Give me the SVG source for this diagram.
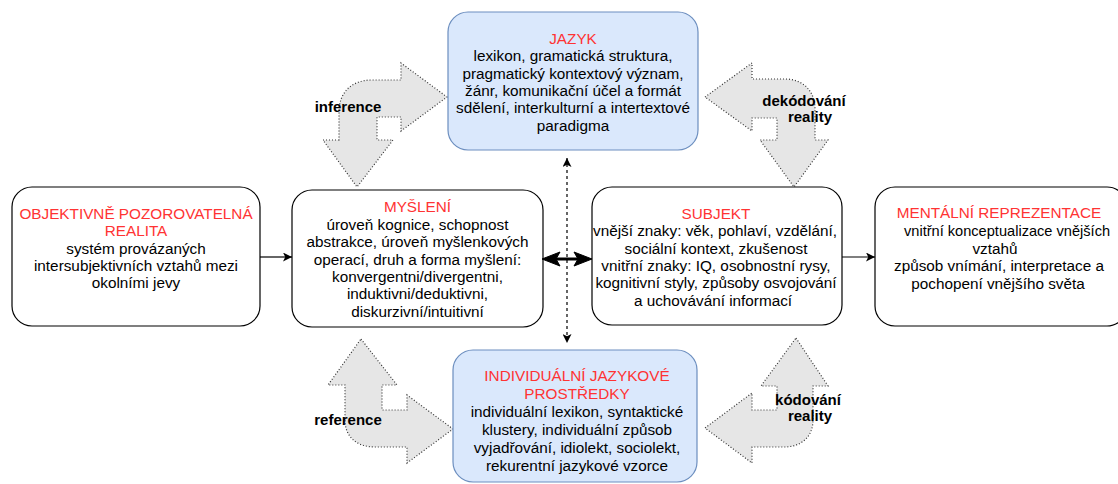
<svg xmlns="http://www.w3.org/2000/svg" width="1118" height="484" viewBox="0 0 1118 484">
<style>
text{font-family:"Liberation Sans",Arial,Helvetica,sans-serif;font-size:15.3px;fill:#000;text-anchor:middle}
.t{fill:#FF3333}
.lbl{font-weight:bold;font-size:15px}
.box{fill:#fff;stroke:#000;stroke-width:1.2}
.blue{fill:#dae8fc;stroke:#6c8ebf;stroke-width:1.2}
.bent{fill:#e6e6e6;stroke:#333;stroke-width:1.2;stroke-dasharray:1 2}
.conn{fill:none;stroke:#000;stroke-width:1.2}
</style>
<defs>
<marker id="arr" viewBox="0 0 10 10" refX="10" refY="5" markerWidth="10" markerHeight="9" markerUnits="userSpaceOnUse" orient="auto-start-reverse">
<path d="M0,0 L10,5 L0,10 L2.5,5 Z" fill="#000"/>
</marker>
</defs>
<rect width="1118" height="484" fill="#fff"/>

<g id="bent-arrows">
<g id="inference">
<path class="bent" d="M339,140 L323,140 L357,187 L393,140 L377,140 L377,117 L401,117 L401,131 L447,97 L401,63 L401,80 L372,80 C352,80 339,92 339,112 Z"/>
<text class="lbl" x="348" y="112">inference</text>
</g>
<g id="dekodovani">
<path class="bent" d="M705,97 L752,63 L752,79 L785,79 C803,79 815,91 815,109 L815,140 L828,140 L794,187 L760,140 L777,140 L777,118 L752,118 L752,131 Z"/>
<text class="lbl" x="804" y="106">dekódování</text>
<text class="lbl" x="810" y="122">reality</text>
</g>
<g id="reference">
<path class="bent" d="M361,339 L397,385 L382,385 L382,410 L407,410 L407,395 L453,429 L407,463 L407,447 L375,447 C357,447 345,437 345,420 L345,385 L328,385 Z"/>
<text class="lbl" x="348" y="425">reference</text>
</g>
<g id="kodovani">
<path class="bent" d="M796,338 L828,386 L813,386 L813,420 C813,437 801,447 784,447 L752,447 L752,463 L705,428 L752,393 L752,410 L777,410 L777,386 L761,386 Z"/>
<text class="lbl" x="808" y="405">kódování</text>
<text class="lbl" x="810" y="421">reality</text>
</g>
</g>

<g id="jazyk">
<rect class="blue" x="448" y="12" width="250" height="138" rx="20"/>
<text class="t" x="573" y="43.5">JAZYK</text>
<text x="573" y="61">lexikon, gramatická struktura,</text>
<text x="573" y="78.5">pragmatický kontextový význam,</text>
<text x="573" y="96">žánr, komunikační účel a formát</text>
<text x="573" y="113">sdělení, interkulturní a intertextové</text>
<text x="573" y="130.5">paradigma</text>
</g>

<g id="objektivne">
<rect class="box" x="12" y="187" width="248" height="139" rx="20"/>
<text class="t" x="136" y="218.5">OBJEKTIVNĚ POZOROVATELNÁ</text>
<text class="t" x="136" y="236">REALITA</text>
<text x="136" y="253.5">systém provázaných</text>
<text x="136" y="270.5">intersubjektivních vztahů mezi</text>
<text x="136" y="288">okolními jevy</text>
</g>

<g id="mysleni">
<rect class="box" x="292" y="190" width="251" height="137" rx="20"/>
<text class="t" x="417.5" y="212">MYŠLENÍ</text>
<text x="417.5" y="229.5">úroveň kognice, schopnost</text>
<text x="417.5" y="247">abstrakce, úroveň myšlenkových</text>
<text x="417.5" y="264.5">operací, druh a forma myšlení:</text>
<text x="417.5" y="281.5">konvergentni/divergentni,</text>
<text x="417.5" y="299">induktivni/deduktivni,</text>
<text x="417.5" y="316.5">diskurzivní/intuitivní</text>
</g>

<g id="subjekt">
<rect class="box" x="592" y="187" width="250" height="138" rx="20"/>
<text class="t" x="716" y="218.5">SUBJEKT</text>
<text x="715" y="236">vnější znaky: věk, pohlaví, vzdělání,</text>
<text x="716" y="253.5">sociální kontext, zkušenost</text>
<text x="716" y="270.5">vnitřní znaky: IQ, osobnostní rysy,</text>
<text x="716" y="288">kognitivní styly, způsoby osvojování</text>
<text x="713" y="305.5">a uchovávání informací</text>
</g>

<g id="mentalni">
<rect class="box" x="875" y="187" width="252" height="139" rx="20"/>
<text class="t" x="999" y="217.5">MENTÁLNÍ REPREZENTACE</text>
<text x="904" y="235.5" style="text-anchor:start;font-size:14.6px">vnitřní konceptualizace vnějších</text>
<text x="995" y="253.5">vztahů</text>
<text x="999" y="271">způsob vnímání, interpretace a</text>
<text x="998" y="288.5">pochopení vnějšího světa</text>
</g>

<g id="individualni">
<rect class="blue" x="453" y="350" width="244" height="132" rx="20"/>
<text class="t" x="577" y="380.5">INDIVIDUÁLNÍ JAZYKOVÉ</text>
<text class="t" x="577" y="398.5">PROSTŘEDKY</text>
<text x="577" y="416.5">individuální lexikon, syntaktické</text>
<text x="577" y="434.5">klustery, individuální způsob</text>
<text x="577" y="452.5">vyjadřování, idiolekt, sociolekt,</text>
<text x="577" y="470.5">rekurentní jazykové vzorce</text>
</g>

<g id="connectors">
<line class="conn" x1="260" y1="257" x2="292" y2="257" marker-end="url(#arr)"/>
<line class="conn" x1="842" y1="257" x2="875" y2="257" marker-end="url(#arr)"/>
<line class="conn" x1="567" y1="158" x2="567" y2="343" stroke-dasharray="3 3" marker-start="url(#arr)" marker-end="url(#arr)"/>
<g id="mysleni-subjekt">
<line x1="555" y1="259" x2="579" y2="259" stroke="#000" stroke-width="3"/>
<path d="M542,259 L560,252 L556,259 L560,266 Z" fill="#000" stroke="#000" stroke-width="1"/>
<path d="M592,259 L574,252 L578,259 L574,266 Z" fill="#000" stroke="#000" stroke-width="1"/>
</g>
</g>
</svg>
